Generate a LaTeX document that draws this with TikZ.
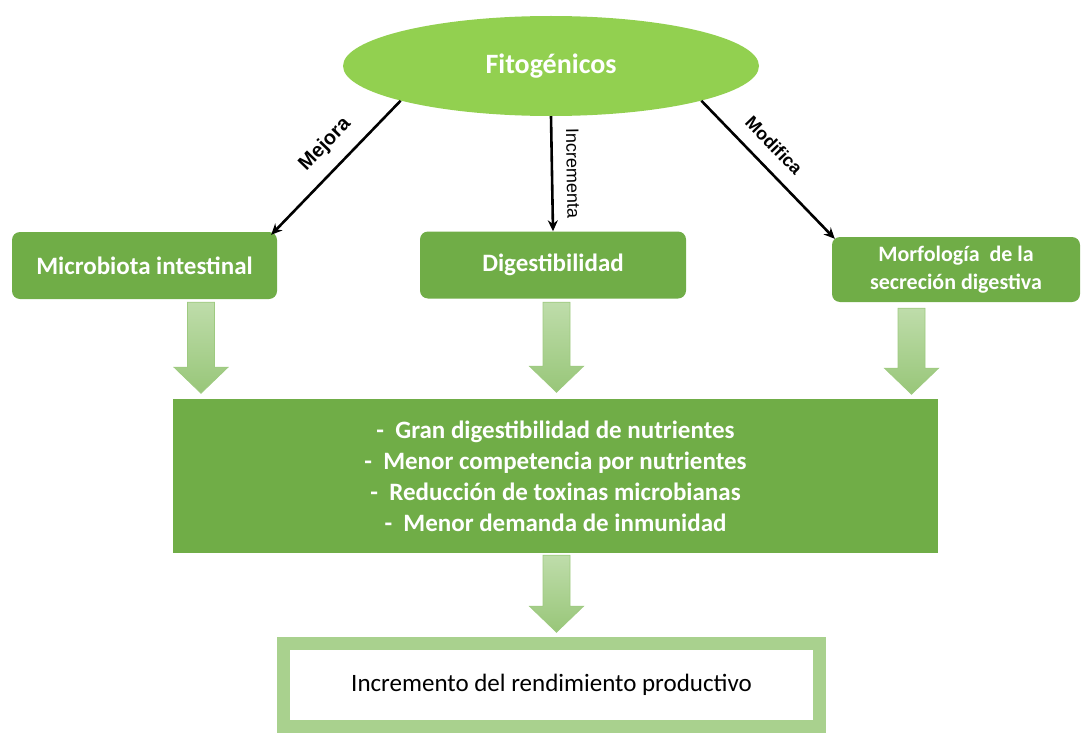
\documentclass[tikz,border=0pt]{standalone}
\usepackage{fontspec}
\setmainfont{Carlito}
\newfontfamily\arialfont{Liberation Sans}
\usetikzlibrary{arrows.meta,shapes.geometric}

\definecolor{verdeclaro}{HTML}{92D050}
\definecolor{verdecaja}{HTML}{70AD47}
\definecolor{verdeflecha}{HTML}{A9D18E}

\tikzset{
  caja/.style={rectangle, rounded corners=8pt, fill=verdecaja, text=white,
    inner sep=0pt, align=center, font=\fontsize{25}{31}\selectfont\bfseries},
  elipse/.style={ellipse, fill=verdeclaro, text=white, inner sep=0pt,
    minimum width=416pt, minimum height=100pt, font=\fontsize{28}{32}\selectfont\bfseries},
  conector/.style={line width=2.6pt, -{Stealth[length=11pt,width=10pt]}},
  etiqueta/.style={font=\arialfont\fontsize{18}{20}\selectfont, sloped, above=10pt},
  relleno/.style={top color=verdeflecha!75!white, bottom color=verdeflecha!70!verdecaja,
    draw=verdeflecha!80!verdecaja, line width=0.8pt},
  pics/flechabloque/.style={code={
    \path[relleno] (-13.5,0) -- (13.5,0) -- (13.5,#1-26) -- (27,#1-26) -- (0,#1)
      -- (-27,#1-26) -- (-13.5,#1-26) -- cycle;}}
}

\begin{document}
\begin{tikzpicture}[x=1pt, y=-1pt]
        \useasboundingbox (0,0) rectangle (1083,733);

        %% top
        \node[elipse] (fito) at (551,66) {Fitogénicos};

        %% first row
        \node[caja, minimum width=265pt, minimum height=67pt] (micro) at (144.5,265.5)
             {Microbiota intestinal};
        \node[caja, minimum width=266pt, minimum height=67pt] (dige) at (553,265)
             {Digestibilidad};
        \node[caja, minimum width=248pt, minimum height=65pt,
              font=\fontsize{22}{28}\selectfont\bfseries] (morf) at (956,269.5)
             {Morfología~ de la\\ secreción digestiva};

        %% effects
        \node[caja, rounded corners=0pt, minimum width=765pt, minimum height=154pt] (big) at (555.5,476)
             {-~~Gran digestibilidad de nutrientes\\
              -~~Menor competencia por nutrientes\\
              -~~Reducción de toxinas microbianas\\
              -~~Menor demanda de inmunidad};

        %% result
        \node[draw=verdeflecha, line width=13pt, fill=white, minimum width=536pt,
              minimum height=83pt, font=\fontsize{25}{30}\selectfont] (rend) at (551.5,685)
             {Incremento del rendimiento productivo};

        %% connectors
        \draw[conector] (fito.193) -- ([xshift=-6pt, yshift=-3pt]micro.north east)
             node[etiqueta, pos=0.45, font=\arialfont\fontsize{20}{22}\selectfont\bfseries] (lmejora) {Mejora};
        \draw[conector] (fito.south) -- (dige.north)
             node[etiqueta, midway] (lincr) {Incrementa};
        \draw[conector] (fito.347) -- ([xshift=3pt, yshift=-2pt]morf.north west)
             node[etiqueta, pos=0.43, font=\arialfont\fontsize{18}{20}\selectfont\bfseries] (lmodi) {Modifica};

        %% block arrows
        \foreach \caja/\dx/\dy/\largo in {micro/56.5/-3/91, dige/3.5/-3.5/90, morf/-44.5/-6/86, big/1/-2/77} {
          \pic at ([xshift=\dx pt, yshift=\dy pt]\caja.south) {flechabloque=\largo};
        }

\end{tikzpicture}
\end{document}
